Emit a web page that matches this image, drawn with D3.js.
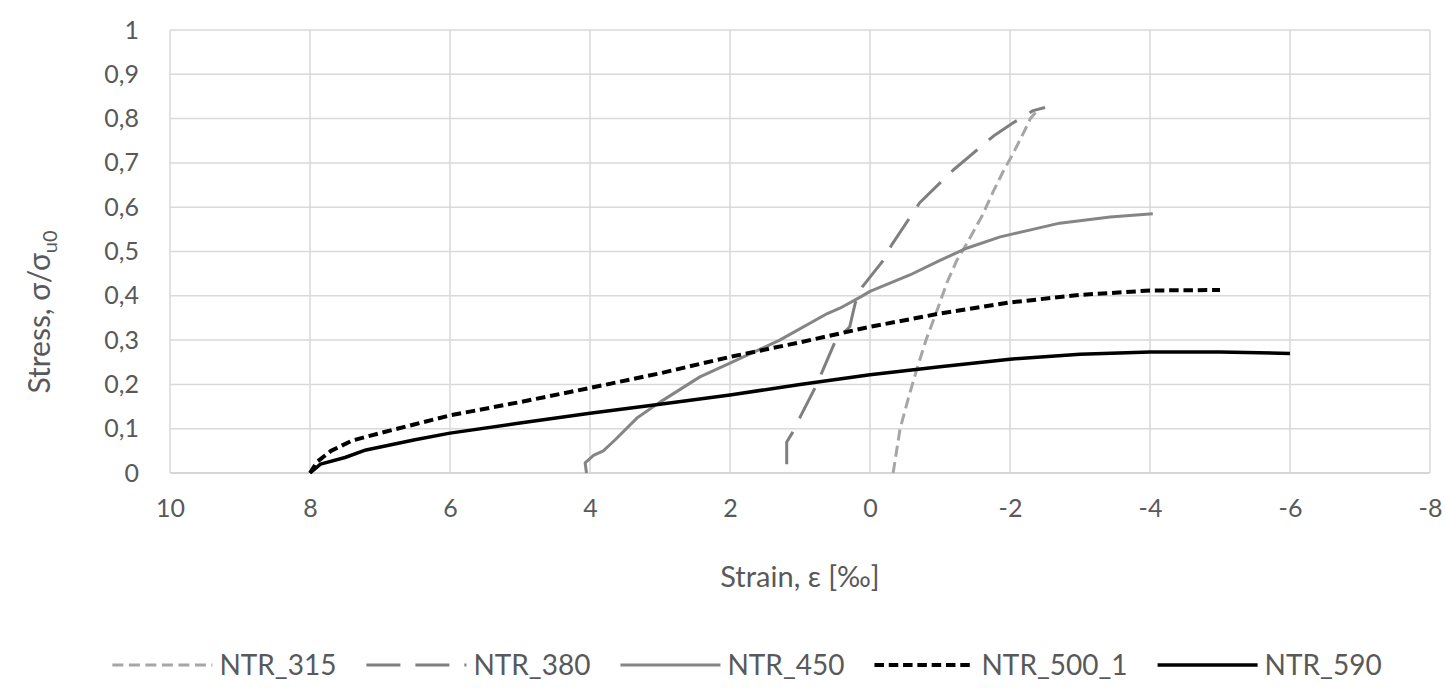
<!DOCTYPE html>
<html>
<head>
<meta charset="utf-8">
<script src="https://cdn.jsdelivr.net/npm/d3@7"></script>
<style>
  body { margin: 0; background: #fff; }
  svg text { font-family: Lato, 'Open Sans', sans-serif; fill: #595959; }
</style>
</head>
<body>
<div class="chart"></div>
<script>
// strain [‰] vs normalised stress
const ntr315 = [
  [-0.33, 0], [-0.43, 0.1], [-0.55, 0.17], [-0.67, 0.235], [-0.8, 0.3],
  [-0.96, 0.368], [-1.1, 0.43], [-1.24, 0.48], [-1.39, 0.52], [-1.6, 0.58],
  [-1.76, 0.635], [-1.9, 0.68], [-2.04, 0.72], [-2.2, 0.77], [-2.29, 0.8],
  [-2.4, 0.82]
];
const ntr380 = [
  [1.19, 0.02], [1.19, 0.07], [1.1, 0.093], [0.97, 0.135], [0.76, 0.2],
  [0.5, 0.296], [0.29, 0.33], [0.21, 0.384], [0.11, 0.42], [-0.19, 0.48],
  [-0.31, 0.515], [-0.71, 0.61], [-1.19, 0.684], [-1.76, 0.76],
  [-2.04, 0.79], [-2.33, 0.818], [-2.5, 0.825]
];
const ntr450 = [
  [4.05, 0], [4.07, 0.023], [3.95, 0.04], [3.81, 0.05], [3.64, 0.075],
  [3.33, 0.124], [3.0, 0.16], [2.43, 0.217], [2.0, 0.248], [1.29, 0.3],
  [0.61, 0.36], [0.43, 0.372], [0.14, 0.397], [0, 0.41], [-0.57, 0.447],
  [-1.0, 0.48], [-1.39, 0.508], [-1.86, 0.533], [-2.71, 0.564],
  [-3.43, 0.578], [-4.04, 0.585]
];
const ntr500 = [
  [8, 0], [7.9, 0.025], [7.7, 0.05], [7.4, 0.073], [7, 0.09], [6.5, 0.11],
  [6, 0.13], [5, 0.16], [4, 0.192], [3, 0.225], [2, 0.262], [1, 0.295],
  [0, 0.33], [-1, 0.36], [-2, 0.385], [-3, 0.402], [-4, 0.412], [-5, 0.413]
];
const ntr590 = [
  [8, 0], [7.85, 0.02], [7.5, 0.035], [7.2, 0.052], [6.5, 0.075], [6, 0.09],
  [5, 0.113], [4, 0.135], [3, 0.155], [2, 0.176], [1, 0.2], [0, 0.222],
  [-1, 0.24], [-2, 0.257], [-3, 0.268], [-4, 0.273], [-5, 0.273], [-6, 0.27]
];

const seriesNames = ['NTR_315', 'NTR_380', 'NTR_450', 'NTR_500_1', 'NTR_590'];
const seriesData = [ntr315, ntr380, ntr450, ntr500, ntr590];
const xTicks = [10, 8, 6, 4, 2, 0, -2, -4, -6, -8];
const yTicks = [0, 0.1, 0.2, 0.3, 0.4, 0.5, 0.6, 0.7, 0.8, 0.9, 1];

const styles = [
  { color: '#a6a6a6', width: 3, dash: '11,5.5' },
  { color: '#7f7f7f', width: 3, dash: '34,15' },
  { color: '#858585', width: 3, dash: null },
  { color: '#000000', width: 4, dash: '9.5,4.8' },
  { color: '#000000', width: 3.5, dash: null },
];

const width = 1445;
const height = 690;

const locale = d3.formatLocale({
  decimal: ',',
  thousands: ' ',
  grouping: [3],
  currency: ['', ''],
  minus: '-',
});
const fmt = locale.format('.1~f');

const svg = d3
  .select('div.chart')
  .append('svg')
  .attr('width', width)
  .attr('height', height);

const x = d3.scaleLinear().domain([10, -8]).range([170, 1430]);
const y = d3.scaleLinear().domain([0, 1]).range([473, 30]);

// grid
svg
  .append('g')
  .selectAll('line.h')
  .data(yTicks)
  .enter()
  .append('line')
  .attr('x1', x(10))
  .attr('x2', x(-8))
  .attr('y1', (d) => y(d))
  .attr('y2', (d) => y(d))
  .attr('stroke', (d) => (d === 0 ? '#c8c8c8' : '#d9d9d9'))
  .attr('stroke-width', 1.5);

svg
  .append('g')
  .selectAll('line.v')
  .data(xTicks)
  .enter()
  .append('line')
  .attr('x1', (d) => x(d))
  .attr('x2', (d) => x(d))
  .attr('y1', y(1))
  .attr('y2', y(0))
  .attr('stroke', '#d9d9d9')
  .attr('stroke-width', 1.5);

// axes
const xAxis = svg
  .append('g')
  .attr('transform', `translate(0,${y(0) + 32})`)
  .call(d3.axisBottom(x).tickValues(xTicks).tickSize(0).tickFormat(fmt));
xAxis.select('.domain').remove();
xAxis.selectAll('text').attr('font-size', 25).attr('dy', '0.35em');

const yAxis = svg
  .append('g')
  .attr('transform', 'translate(139,0)')
  .call(d3.axisLeft(y).tickValues(yTicks).tickSize(0).tickFormat(fmt));
yAxis.select('.domain').remove();
yAxis.selectAll('text').attr('font-size', 25).attr('x', 0);

// series
const line = d3
  .line()
  .x((d) => x(d[0]))
  .y((d) => y(d[1]));

seriesData.forEach((data, i) => {
  svg
    .append('path')
    .datum(data)
    .attr('d', line)
    .attr('fill', 'none')
    .attr('stroke', styles[i].color)
    .attr('stroke-width', styles[i].width)
    .attr('stroke-dasharray', styles[i].dash)
    .attr('stroke-linejoin', 'round');
});

// axis titles
svg
  .append('text')
  .attr('x', (x(10) + x(-8)) / 2)
  .attr('y', 587)
  .attr('text-anchor', 'middle')
  .attr('font-size', 29)
  .text('Strain, ε [‰]');

const yTitle = svg
  .append('text')
  .attr('transform', 'translate(50,312) rotate(-90)')
  .attr('text-anchor', 'middle')
  .attr('font-size', 30);
yTitle.append('tspan').text('Stress, σ/σ');
yTitle.append('tspan').attr('font-size', 20).attr('dy', 7).text('u0');

// legend
const legend = svg.append('g');
let cursor = 0;
seriesNames.forEach((name, i) => {
  const item = legend.append('g').attr('transform', `translate(${cursor},0)`);
  item
    .append('line')
    .attr('x1', 0)
    .attr('x2', 100)
    .attr('stroke', styles[i].color)
    .attr('stroke-width', styles[i].width)
    .attr('stroke-dasharray', styles[i].dash);
  const label = item
    .append('text')
    .attr('x', 107)
    .attr('dy', '0.35em')
    .attr('font-size', 28)
    .text(name);
  cursor += 107 + label.node().getComputedTextLength() + 30;
});
const legendWidth = cursor - 30;
legend.attr('transform', `translate(${747 - legendWidth / 2},665)`);
</script>
</body>
</html>
